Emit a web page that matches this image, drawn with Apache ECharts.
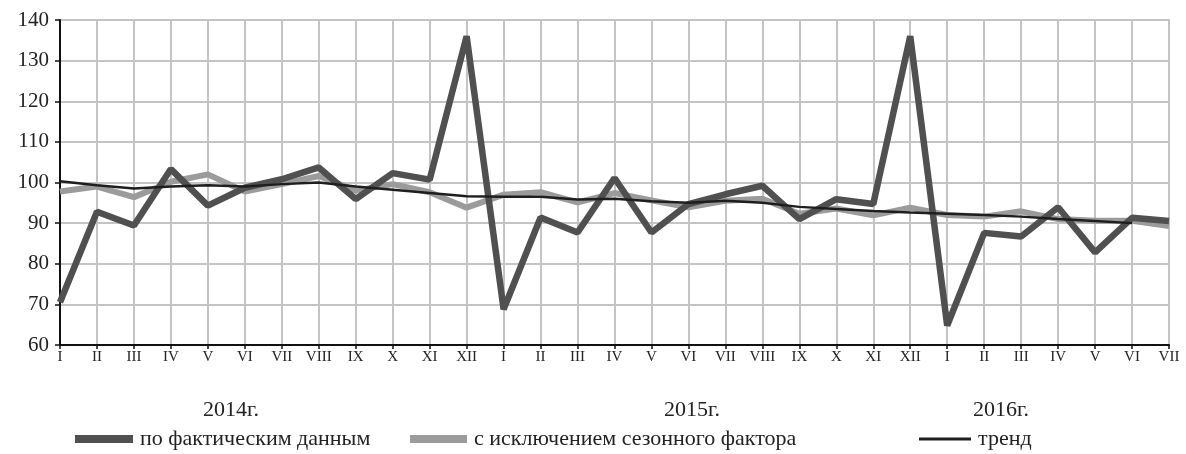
<!DOCTYPE html>
<html>
<head>
<meta charset="utf-8">
<script src="https://cdn.jsdelivr.net/npm/echarts@6/dist/echarts.min.js"></script>
<style>
html,body{margin:0;padding:0;background:#fff;}
#c{width:1186px;height:454px;}
</style>
</head>
<body>
<div id="c"></div>
<script>
var categories = [
  'I','II','III','IV','V','VI','VII','VIII','IX','X','XI','XII',
  'I','II','III','IV','V','VI','VII','VIII','IX','X','XI','XII',
  'I','II','III','IV','V','VI','VII'
];
var yearLabels = ['2014г.', '2015г.', '2016г.'];
var actual = [
  70.5, 92.8, 89.4, 103.3, 94.3, 98.7, 100.8, 103.7, 95.9, 102.3, 100.7, 136,
  68.8, 91.4, 87.7, 101.1, 87.7, 94.7, 97.1, 99.2, 91.0, 95.9, 94.7, 136,
  64.8, 87.6, 86.7, 93.9, 82.8, 91.3, 90.5
];
var seasonal = [
  97.8, 99.0, 96.4, 100.2, 102.0, 97.8, 99.6, 101.6, 98.0, 99.6, 97.6, 93.8,
  97.0, 97.6, 95.1, 97.4, 95.6, 93.9, 95.5, 96.0, 92.3, 93.6, 91.9, 93.8,
  92.0, 91.6, 92.9, 91.0, 90.6, 90.6, 89.3
];
var trend = [
  100.3, 99.3, 98.5, 99.0, 99.3, 99.0, 99.6, 100.0, 99.0, 98.2, 97.4, 96.6,
  96.5, 96.5, 95.8, 96.0, 95.4, 95.0, 95.5, 95.0, 94.0, 93.5, 93.0, 92.6,
  92.3, 92.0, 91.6, 91.0, 90.5, 90.0, null
];
var seriesNames = ['по фактическим данным', 'с исключением сезонного фактора', 'тренд'];

var chart = echarts.init(document.getElementById('c'));
var serif = '"Liberation Serif", "DejaVu Serif", serif';
var legendText = {fontFamily: serif, fontSize: 22, color: '#222', padding: [0, 0, 0, 2]};
chart.setOption({
  animation: false,
  backgroundColor: '#fff',
  grid: {left: 60, right: 17, top: 20, bottom: 109, show: true, borderColor: '#9a9a9a', borderWidth: 1.5},
  legend: [
    {left: 70, top: 423, itemWidth: 58, itemHeight: 8, textStyle: legendText,
     data: [{name: seriesNames[0], icon: 'rect'}]},
    {left: 405, top: 423, itemWidth: 57, itemHeight: 8, textStyle: legendText,
     data: [{name: seriesNames[1], icon: 'rect'}]},
    {left: 914, top: 423, itemWidth: 52, itemHeight: 3, textStyle: legendText,
     data: [{name: seriesNames[2], icon: 'rect'}]}
  ],
  graphic: [
    {type: 'text', left: 203, top: 399, style: {text: yearLabels[0], font: '22px ' + serif, fill: '#222'}},
    {type: 'text', left: 664, top: 399, style: {text: yearLabels[1], font: '22px ' + serif, fill: '#222'}},
    {type: 'text', left: 973, top: 399, style: {text: yearLabels[2], font: '22px ' + serif, fill: '#222'}}
  ],
  xAxis: {
    type: 'category',
    data: categories,
    boundaryGap: false,
    axisLine: {lineStyle: {color: '#111', width: 2}},
    axisTick: {show: true, interval: 0, length: 4, lineStyle: {color: '#111', width: 1.5}},
    axisLabel: {interval: 0, fontFamily: serif, fontSize: 15, color: '#222', margin: 5},
    splitLine: {show: true, interval: 0, lineStyle: {color: '#c4c4c4', width: 2}}
  },
  yAxis: {
    type: 'value',
    min: 60,
    max: 140,
    interval: 10,
    axisLine: {show: true, lineStyle: {color: '#111', width: 2}},
    axisTick: {show: true, length: 5, lineStyle: {color: '#111', width: 1.5}},
    axisLabel: {fontFamily: serif, fontSize: 21, color: '#222', margin: 11},
    splitLine: {lineStyle: {color: '#c4c4c4', width: 2}}
  },
  series: [
    {
      name: seriesNames[1], type: 'line', data: seasonal, symbol: 'none', z: 2,
      lineStyle: {color: '#9b9b9b', width: 6}, itemStyle: {color: '#9b9b9b'}
    },
    {
      name: seriesNames[0], type: 'line', data: actual, symbol: 'none', z: 3,
      lineStyle: {color: '#505050', width: 6.5}, itemStyle: {color: '#505050'}
    },
    {
      name: seriesNames[2], type: 'line', data: trend, symbol: 'none', z: 4,
      lineStyle: {color: '#1e1e1e', width: 2.5}, itemStyle: {color: '#1e1e1e'}
    }
  ]
});
</script>
</body>
</html>
